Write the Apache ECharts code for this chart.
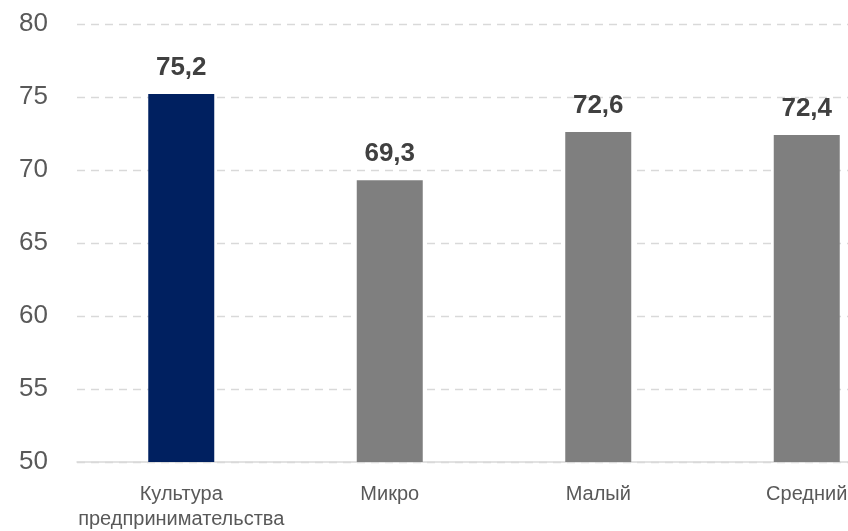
<!DOCTYPE html>
<html><head><meta charset="utf-8">
<script src="https://cdn.jsdelivr.net/npm/echarts@6/dist/echarts.min.js"></script>
<style>html,body{margin:0;padding:0;background:#fff}#c{width:848px;height:531px}</style>
</head><body><div id="c"></div>
<script>
const categories = ["Культура\nпредпринимательства", "Микро", "Малый", "Средний"];
const values = [75.2, 69.3, 72.6, 72.4];
const barColors = ["#002060", "#7f7f7f", "#7f7f7f", "#7f7f7f"];
const yTicks = {min: 50, max: 80, interval: 5};
const FONT = "'Liberation Sans', Arial, sans-serif";
const chart = echarts.init(document.getElementById('c'));
chart.setOption({
  animation: false,
  grid: {left: 77, width: 834, top: 24, height: 438, containLabel: false, outerBoundsMode: 'none'},
  xAxis: {
    type: 'category', data: categories,
    axisLine: {lineStyle: {color: '#d9d9d9', width: 1.5}},
    axisTick: {show: false},
    axisLabel: {color: '#595959', fontSize: 20, fontFamily: FONT, margin: 20, lineHeight: 25, interval: 0}
  },
  yAxis: {
    type: 'value', min: yTicks.min, max: yTicks.max, interval: yTicks.interval,
    axisLine: {show: false}, axisTick: {show: false},
    axisLabel: {color: '#595959', fontSize: 26, fontFamily: FONT, margin: 29},
    splitLine: {lineStyle: {color: '#d9d9d9', type: [8, 6], width: 1.3}}
  },
  series: [{
    type: 'bar', barWidth: 66,
    data: values.map((v, i) => ({value: v, itemStyle: {color: barColors[i]}})),
    label: {show: true, position: 'top', distance: 13, color: '#404040', fontSize: 26, fontWeight: 'bold', fontFamily: FONT,
      formatter: p => p.value.toFixed(1).replace('.', ',')}
  }]
});
</script></body></html>
